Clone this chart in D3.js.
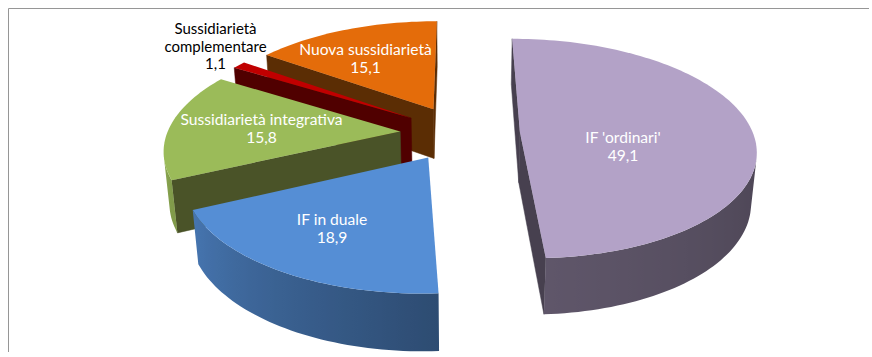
<!DOCTYPE html>
<html><head><meta charset="utf-8">
<script src="https://cdn.jsdelivr.net/npm/d3@7"></script>
<style>html,body{margin:0;padding:0;background:#fff}svg{display:block}text{font-family:Lato,"Open Sans",sans-serif}</style>
</head><body><svg id="c" width="872" height="357"></svg>
<script>
// Data
const categories = ["IF 'ordinari'", "IF in duale", "Sussidiarietà integrativa", "Sussidiarietà complementare", "Nuova sussidiarietà"];
const values = [49.1, 18.9, 15.8, 1.1, 15.1];
const valueLabels = ["49,1", "18,9", "15,8", "1,1", "15,1"];

// Styles
const topColors = ["#B3A2C7", "#558ED5", "#9BBB59", "#C00000", "#E46C0A"];
const sideColors = ["#47404F", "#2E4F78", "#4A5328", "#500000", "#5B2D04"];
const labelColors = ["#fff", "#fff", "#fff", "#000", "#fff"];
const labelLines = [[categories[0]], [categories[1]], [categories[2]], ["Sussidiarietà", "complementare"], [categories[4]]];
const labelAnchors = [[623,138],[332,220],[261.5,120],[215.5,29],[365.5,50]];
const labelSizes = [15.6,15.6,15.6,15,15.6];
const drawOrder = [4,3,2,1,0];

// Camera model (3D exploded pie)
const X0=460, Y0=133, D=1388, PHI=27.5*Math.PI/180, R=233, EXPL=60, H=58;
const START=0;
const project=(u,v,h)=>{
  const z=D+v*Math.cos(PHI)-h*Math.sin(PHI);
  return [X0+D*u/z, Y0-D*(v*Math.sin(PHI)+h*Math.cos(PHI))/z];
};
const shade=d3.scaleLinear().domain([90,176,245,262]).range([.41,.53,.83,.95]).clamp(true);

const svg=d3.select("#c");
const defs=svg.append("defs");
svg.append("path").attr("d","M8.5,352V8.5H869").attr("fill","none").attr("stroke","#969696").attr("stroke-width",1);

const line=d3.line();
const arcs=d3.pie().sort(null).startAngle(START).endAngle(START+2*Math.PI)(values);
const area2=p=>d3.polygonArea(p);

drawOrder.forEach(i=>{
  const a=arcs[i], mid=(a.startAngle+a.endAngle)/2;
  const cu=EXPL*Math.sin(mid), cv=EXPL*Math.cos(mid);
  const P=(t,r,h)=>project(cu+r*Math.sin(t),cv+r*Math.cos(t),h);
  const g=svg.append("g");
  const n=Math.max(2,Math.ceil((a.endAngle-a.startAngle)/(1.5*Math.PI/180)));
  const ts=d3.range(n+1).map(k=>a.startAngle+(a.endAngle-a.startAngle)*k/n);
  // radial walls, culled
  const wall=(t,sign)=>{
    const q=[P(t,0,0),P(t,R,0),P(t,R,-H),P(t,0,-H)];
    if(sign*area2(q)>0) g.append("path").attr("d",line(q)+"Z").attr("fill",sideColors[i]).attr("stroke",sideColors[i]).attr("stroke-width",.5);
  };
  wall(a.startAngle,1); wall(a.endAngle,-1);
  // outer wall: visible part only, single path with a horizontal gradient
  const base=d3.color(topColors[i]);
  const vis=ts.filter((t,k)=>{
    const t2=k<n?ts[k+1]:t, t1=k<n?t:ts[k-1];
    return area2([P(t1,R,0),P(t2,R,0),P(t2,R,-H),P(t1,R,-H)])>=0;
  });
  if(vis.length>1){
    const x1=d3.min(vis,t=>P(t,R,0)[0]), x2=d3.max(vis,t=>P(t,R,0)[0]);
    const off=d3.scaleLinear().domain([x1,x2]).range([0,1]);
    const gr=defs.append("linearGradient").attr("id","wall"+i).attr("gradientUnits","userSpaceOnUse")
      .attr("x1",x1).attr("x2",x2).attr("y1",0).attr("y2",0);
    [...vis].sort((p,q)=>P(p,R,0)[0]-P(q,R,0)[0]).forEach(t=>{
      const s=shade((t*180/Math.PI+360)%360);
      gr.append("stop").attr("offset",off(P(t,R,0)[0])).attr("stop-color",d3.rgb(base.r*s,base.g*s,base.b*s).formatHex());
    });
    const q=[...vis.map(t=>P(t,R,0)),...[...vis].reverse().map(t=>P(t,R,-H))];
    g.append("path").attr("d",line(q)+"Z").attr("fill",`url(#wall${i})`);
  }
  // top face
  const top=[P(0,0,0),...ts.map(t=>P(t,R,0))];
  g.append("path").attr("d",line(top)+"Z").attr("fill",topColors[i]);
});

// labels
categories.forEach((c,i)=>{
  const lines=[...labelLines[i],valueLabels[i]];
  const [x,y]=labelAnchors[i];
  lines.forEach((l,j)=>{
    svg.append("text").attr("x",x).attr("y",y+j*17.5).attr("dy","0.35em").attr("text-anchor","middle")
      .attr("font-size",labelSizes[i]).attr("fill",labelColors[i]).text(l);
  });
});
</script></body></html>
